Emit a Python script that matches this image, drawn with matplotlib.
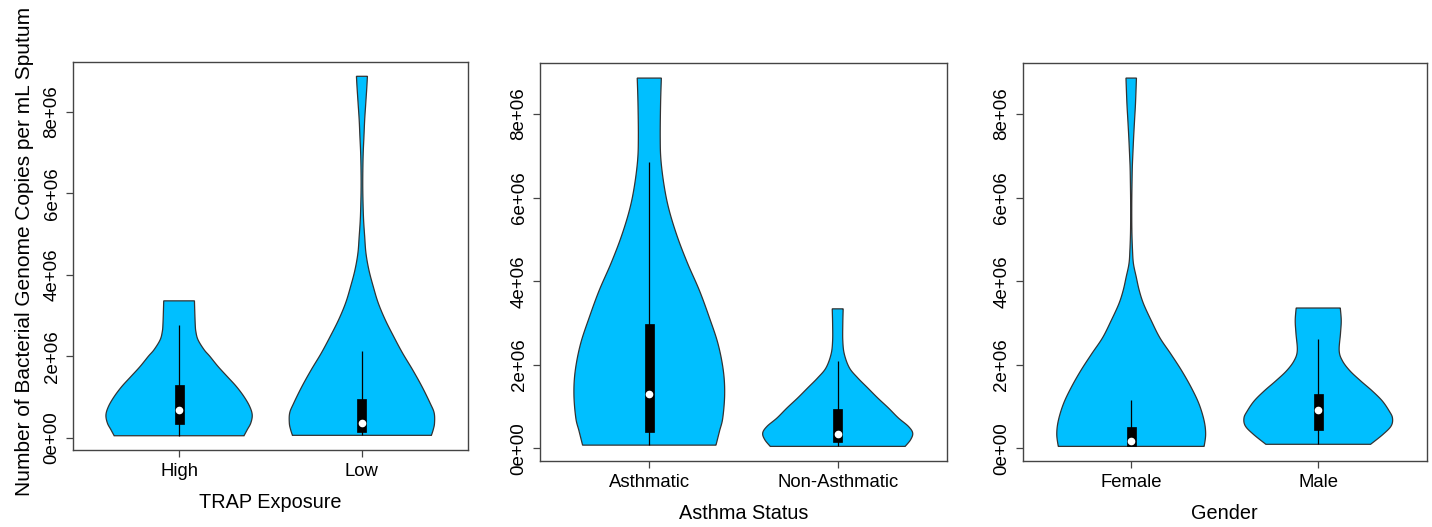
import matplotlib
matplotlib.use("Agg")
import matplotlib.pyplot as plt
from matplotlib.patches import Rectangle
import numpy as np

plt.rcParams['font.family'] = ['Liberation Sans', 'DejaVu Sans']

# group names and axis titles
trap_groups = ["High", "Low"]
asthma_groups = ["Asthmatic", "Non-Asthmatic"]
gender_groups = ["Female", "Male"]
xtitles = ["TRAP Exposure", "Asthma Status", "Gender"]
ytitle = "Number of Bacterial Genome Copies per mL Sputum"

# violin outlines: levels in millions of copies, half widths in x units
high_level = [0.05, 0.20, 0.36, 0.56, 0.77, 1.01, 1.26, 1.50, 1.75, 2.00, 2.16, 2.40, 2.60, 2.81, 3.36]
high_half = [0.355, 0.373, 0.392, 0.40, 0.386, 0.355, 0.313, 0.264, 0.213, 0.168, 0.137, 0.104, 0.092, 0.088, 0.084]

low_level = [0.06, 0.20, 0.36, 0.61, 0.85, 1.26, 1.67, 2.08, 2.49, 2.90, 3.31, 3.71, 4.12, 4.53,
             4.94, 5.35, 5.76, 6.17, 6.58, 6.99, 7.39, 7.80, 8.21, 8.62, 8.87]
low_half = [0.38, 0.39, 0.397, 0.395, 0.373, 0.328, 0.277, 0.222, 0.173, 0.127, 0.089, 0.062, 0.038, 0.022,
            0.015, 0.009, 0.006, 0.0045, 0.005, 0.007, 0.011, 0.015, 0.021, 0.027, 0.030]

asth_level = [0.08, 0.42, 0.73, 1.30, 1.86, 2.50, 3.13, 3.78, 4.42, 5.05, 5.69, 6.25, 6.89, 7.45, 8.26, 8.86]
asth_half = [0.354, 0.373, 0.39, 0.40, 0.393, 0.365, 0.319, 0.266, 0.204, 0.150, 0.106, 0.080, 0.062, 0.058, 0.060, 0.064]

nonasth_level = [0.05, 0.21, 0.37, 0.53, 0.73, 0.97, 1.21, 1.45, 1.69, 1.93, 2.26, 2.58, 2.98, 3.34]
nonasth_half = [0.358, 0.387, 0.398, 0.375, 0.322, 0.269, 0.212, 0.159, 0.106, 0.062, 0.035, 0.027, 0.027, 0.029]

female_level = [0.05, 0.34, 0.66, 1.06, 1.45, 1.86, 2.26, 2.65, 3.06, 3.46, 3.78, 4.10, 4.42, 4.74,
                5.22, 5.86, 6.41, 6.74, 7.06, 7.45, 7.86, 8.26, 8.86]
female_half = [0.39, 0.398, 0.39, 0.363, 0.322, 0.27, 0.212, 0.153, 0.107, 0.066, 0.043, 0.027, 0.012, 0.007,
               0.0035, 0.003, 0.0045, 0.006, 0.009, 0.013, 0.018, 0.023, 0.028]

male_level = [0.10, 0.34, 0.54, 0.73, 0.90, 1.14, 1.38, 1.62, 1.86, 2.10, 2.34, 2.75, 3.06, 3.36]
male_half = [0.28, 0.347, 0.39, 0.397, 0.379, 0.342, 0.288, 0.226, 0.169, 0.129, 0.112, 0.119, 0.123, 0.118]

# box summaries (millions): lower whisker, q1, median, q3, upper whisker
high_box = [0.05, 0.33, 0.68, 1.30, 2.77]
low_box = [0.06, 0.15, 0.36, 0.95, 2.13]
asth_box = [0.08, 0.40, 1.30, 2.98, 6.86]
nonasth_box = [0.05, 0.16, 0.34, 0.94, 2.10]
female_box = [0.05, 0.05, 0.17, 0.52, 1.16]
male_box = [0.10, 0.45, 0.92, 1.31, 2.62]

FILL = "#00BFFF"
EDGE = "#333333"
SCALE = 1e6


def smooth_outline(level, half, steps=12):
    # Catmull-Rom curve through the outline points, only for a rounder drawn edge
    p = np.column_stack([level, half])
    p = np.vstack([p[0], p, p[-1]])
    out = []
    t = np.linspace(0, 1, steps, endpoint=False)[:, None]
    for i in range(1, len(p) - 2):
        p0, p1, p2, p3 = p[i - 1], p[i], p[i + 1], p[i + 2]
        seg = 0.5 * (2 * p1 + (-p0 + p2) * t + (2 * p0 - 5 * p1 + 4 * p2 - p3) * t ** 2
                     + (-p0 + 3 * p1 - 3 * p2 + p3) * t ** 3)
        out.append(seg)
    out.append(p[-2][None, :])
    out = np.vstack(out)
    return out[:, 0], np.clip(out[:, 1], 0.001, None)


def draw_violin(ax, pos, level, half, box):
    lv, hw = smooth_outline(level, half)
    lv = lv * SCALE
    xs = np.concatenate([pos - hw, (pos + hw)[::-1]])
    ys = np.concatenate([lv, lv[::-1]])
    ax.fill(xs, ys, facecolor=FILL, edgecolor=EDGE, lw=0.9, zorder=2)
    lo, q1, med, q3, hi = [v * SCALE for v in box]
    ax.vlines(pos, lo, hi, color="black", lw=0.9, zorder=3)
    ax.add_patch(Rectangle((pos - 0.025, q1), 0.05, q3 - q1, facecolor="black",
                           edgecolor="black", lw=0.5, zorder=4))
    ax.plot(pos, med, "o", color="white", ms=4.5, mec="white", zorder=5)


fig = plt.figure(figsize=(14.32, 5.27), dpi=100)
rects = [
    [0.0510, 0.1461, 0.2758, 0.7362],
    [0.3771, 0.1252, 0.2842, 0.7552],
    [0.7142, 0.1252, 0.2821, 0.7552],
]
panels = [
    (trap_groups, [(high_level, high_half, high_box), (low_level, low_half, low_box)]),
    (asthma_groups, [(asth_level, asth_half, asth_box), (nonasth_level, nonasth_half, nonasth_box)]),
    (gender_groups, [(female_level, female_half, female_box), (male_level, male_half, male_box)]),
]

yticks = [0, 2e6, 4e6, 6e6, 8e6]
for rect, (groups, violins), xt in zip(rects, panels, xtitles):
    ax = fig.add_axes(rect)
    for i, (lv, hw, bx) in enumerate(violins):
        draw_violin(ax, i + 1, lv, hw, bx)
    ax.set_xlim(0.42, 2.58)
    ax.set_ylim(-0.30e6, 9.22e6)
    ax.set_xticks([1, 2])
    ax.set_xticklabels(groups, fontsize=13.3)
    ax.set_yticks(yticks)
    ax.set_yticklabels([f"{v:.0e}" for v in yticks], fontsize=13.5, rotation=90, va="center")
    ax.tick_params(length=5, width=0.9, color="#444444", pad=4)
    for s in ax.spines.values():
        s.set_color("#444444")
        s.set_linewidth(1.0)
    ax.set_xlabel(xt, fontsize=14.3, labelpad=10)

fig.text(25 / 1432, 1 - 251 / 527, ytitle, rotation=90, fontsize=15, ha="center", va="center")

fig.savefig("out.png", dpi=100)
